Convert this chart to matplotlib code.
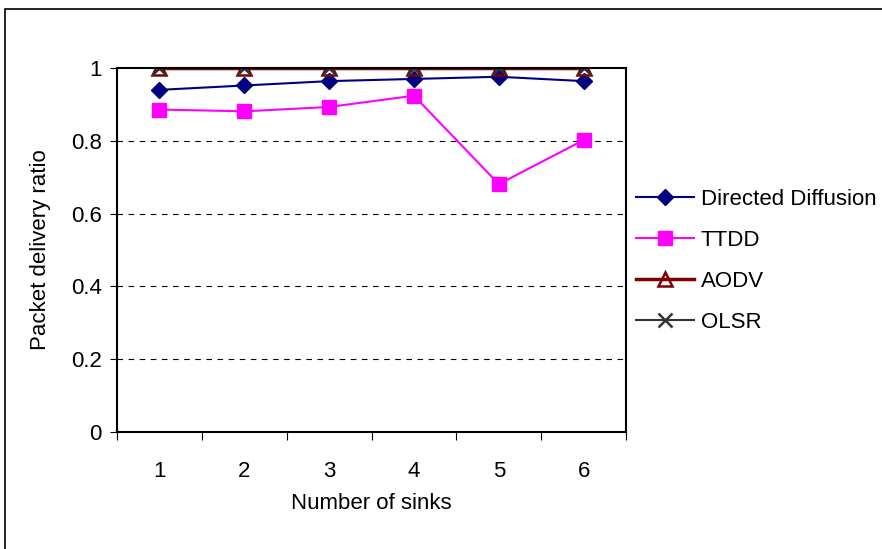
import matplotlib.pyplot as plt
from matplotlib.patches import Rectangle
from matplotlib.ticker import FixedLocator

plt.rcParams['font.family'] = ['Liberation Sans', 'DejaVu Sans']

sinks = [1, 2, 3, 4, 5, 6]
directed_diffusion = [0.940, 0.952, 0.964, 0.970, 0.976, 0.964]
ttdd = [0.886, 0.881, 0.893, 0.924, 0.681, 0.802]
aodv = [1.0, 1.0, 1.0, 1.0, 1.0, 1.0]
olsr = [1.0, 1.0, 1.0, 1.0, 1.0, 1.0]
y_ticks = [0, 0.2, 0.4, 0.6, 0.8, 1.0]
y_labels = ['0', '0.2', '0.4', '0.6', '0.8', '1']

fig = plt.figure(figsize=(8.82, 5.49), dpi=100)
ax = fig.add_axes([0.1327, 0.2131, 0.5771, 0.663])

# outer chart border (runs off the right and bottom edges)
fig.patches.append(Rectangle((5 / 882, -0.05), 1.0, 1 - 9 / 549 + 0.05,
                             transform=fig.transFigure, fill=False,
                             edgecolor='black', linewidth=1.2, clip_on=False))

ax.plot(sinks, directed_diffusion, color='#000080', marker='D', markersize=8.5,
        linewidth=1.5, label='Directed Diffusion')
ax.plot(sinks, ttdd, color='#FF00FF', marker='s', markersize=10,
        linewidth=1.5, label='TTDD')
ax.plot(sinks, aodv, color='#800000', marker='^', markersize=10,
        markerfacecolor='none', markeredgewidth=1.8, linewidth=2.5, label='AODV')
ax.plot(sinks, olsr, color='#333333', marker='x', markersize=10,
        markeredgewidth=1.8, linewidth=1.5, label='OLSR')

ax.set_xlim(0.5, 6.5)
ax.set_ylim(0, 1)
ax.set_yticks(y_ticks)
ax.set_yticklabels(y_labels)
ax.xaxis.set_major_locator(FixedLocator([0.5 + i for i in range(7)]))
ax.set_xticklabels([])
ax.xaxis.set_minor_locator(FixedLocator(sinks))
ax.set_xticklabels([str(s) for s in sinks], minor=True)
ax.tick_params(axis='x', which='minor', length=0, pad=21, labelsize=16)
ax.tick_params(axis='x', which='major', length=6, direction='out')
ax.tick_params(axis='y', length=5, direction='out', labelsize=16, pad=6)

for v in y_ticks[1:-1]:
    ax.axhline(v, color='black', linestyle=(0, (5, 5)), linewidth=0.8, zorder=0)

for s in ax.spines.values():
    s.set_linewidth(1.5)
    s.set_color('black')

ax.set_xlabel('Number of sinks', fontsize=16, labelpad=8)
ax.set_ylabel('Packet delivery ratio', fontsize=16, labelpad=14)

ax.legend(loc='center left', bbox_to_anchor=(1.02, 0.47), frameon=False,
          fontsize=16, handlelength=2.6, handletextpad=0.3, labelspacing=0.9,
          borderaxespad=0, borderpad=0)

fig.savefig('out.png', dpi=100)
